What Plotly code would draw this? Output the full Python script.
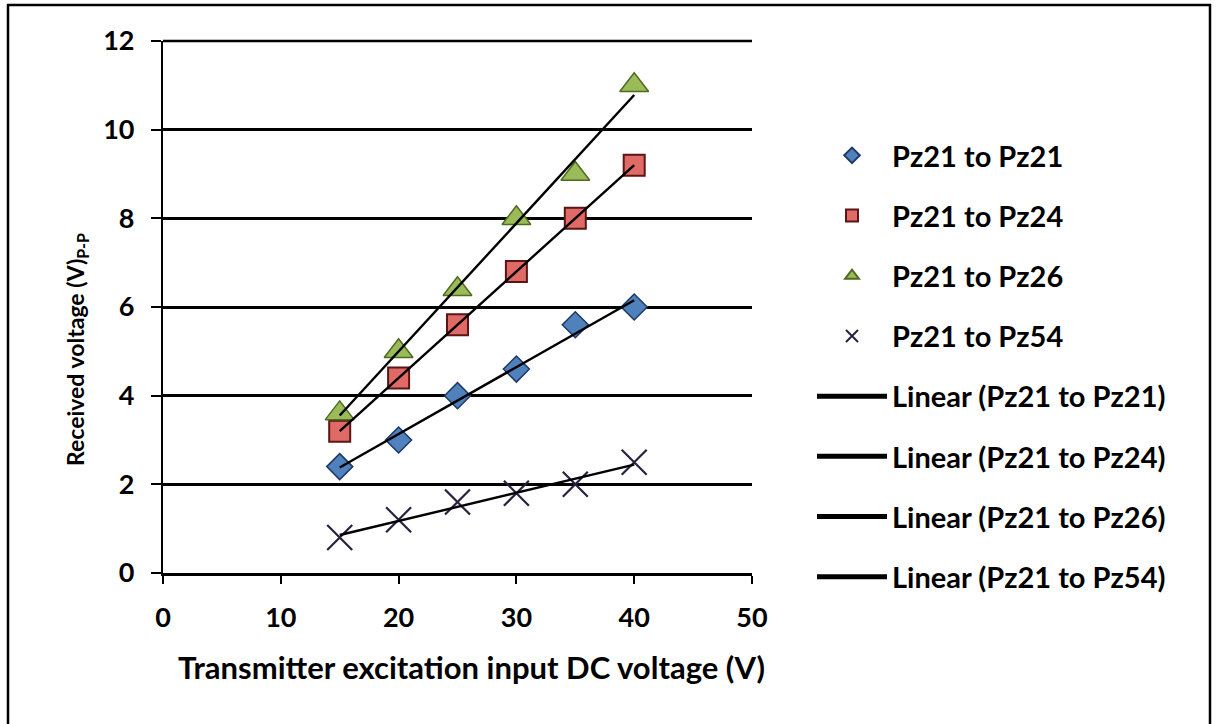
import numpy as np
import plotly.graph_objects as go

x_vals = [15, 20, 25, 30, 35, 40]
pz21 = [2.4, 3.0, 4.0, 4.6, 5.6, 6.0]
pz24 = [3.2, 4.4, 5.6, 6.8, 8.0, 9.2]
pz26 = [3.6, 5.0, 6.4, 8.0, 9.0, 11.0]
pz54 = [0.8, 1.2, 1.6, 1.8, 2.0, 2.5]
series_names = ["Pz21 to Pz21", "Pz21 to Pz24", "Pz21 to Pz26", "Pz21 to Pz54"]
x_ticks = [0, 10, 20, 30, 40, 50]
y_ticks = [0, 2, 4, 6, 8, 10, 12]
x_title = "Transmitter excitation input DC voltage (V)"
y_title = "Received voltage (V)<sub>P-P</sub>"

FONT = "Lato"

W, H = 1217, 724
L, R, T, B = 163, 752, 41, 573

styles = [
    dict(symbol="diamond", size=20, color="#4F81BD", line=dict(color="#1F3864", width=1.5)),
    dict(symbol="square", size=21, color="#E06B66", line=dict(color="#5A1514", width=2)),
    dict(symbol="triangle-up", size=25, color="#9BBB59", line=dict(color="#4F6B22", width=1.5)),
    dict(symbol="x-thin", size=25, color="#3F3151", line=dict(color="#2B2040", width=2.2)),
]

fig = go.Figure()
all_series = [pz21, pz24, pz26, pz54]
for i, (name, ys) in enumerate(zip(series_names, all_series)):
    fig.add_trace(go.Scatter(x=x_vals, y=ys, mode="markers", name=name,
                             marker=styles[i], legendgroup="g%d" % i))
for i, (name, ys) in enumerate(zip(series_names, all_series)):
    k, b = np.polyfit(x_vals, ys, 1)
    xs = [x_vals[0], x_vals[-1]]
    fig.add_trace(go.Scatter(x=xs, y=[k * v + b for v in xs], mode="lines",
                             name="Linear (%s)" % name,
                             line=dict(color="black", width=2.4),
                             legendgroup="l%d" % i))

def px2paperx(p):
    return (p - L) / (R - L)

def px2papery(p):
    return (B - p) / (B - T)

fig.update_layout(
    width=W, height=H,
    margin=dict(l=L, r=W - R, t=T, b=H - B, autoexpand=False),
    paper_bgcolor="white", plot_bgcolor="white",
    font=dict(family=FONT, size=27, color="black", weight="bold"),
    showlegend=True,
    legend=dict(x=px2paperx(812), y=px2papery(130), xanchor="left", yanchor="top",
                xref="paper", yref="paper", itemwidth=70,
                tracegroupgap=19.5, font=dict(family=FONT, size=29, weight="bold"),
                bgcolor="rgba(0,0,0,0)", itemsizing="constant"),
    xaxis=dict(range=[0, 50], tickvals=x_ticks, showgrid=False, zeroline=False,
               showline=True, linecolor="black", linewidth=2.6,
               ticks="outside", ticklen=8, tickwidth=2, tickcolor="black",
               ticklabelstandoff=11, tickfont=dict(size=27)),
    yaxis=dict(range=[0, 12], tickvals=y_ticks, showgrid=True, gridcolor="black", gridwidth=2.6,
               zeroline=False, showline=True, linecolor="black", linewidth=2.2,
               ticks="outside", ticklen=10, tickwidth=2, tickcolor="black",
               ticklabelstandoff=11, tickfont=dict(size=27)),
    annotations=[
        dict(text=x_title, xref="paper", yref="paper", x=px2paperx(471), y=px2papery(667),
             xanchor="center", yanchor="middle", showarrow=False,
             font=dict(family=FONT, size=31, weight="bold", color="black")),
        dict(text=y_title, xref="paper", yref="paper", x=px2paperx(76), y=px2papery(350),
             xanchor="center", yanchor="middle", textangle=-90, showarrow=False,
             font=dict(family=FONT, size=23, weight="bold", color="black")),
    ],
    shapes=[
        dict(type="rect", xref="paper", yref="paper",
             x0=px2paperx(8), x1=px2paperx(1210), y0=px2papery(735), y1=px2papery(5),
             line=dict(color="black", width=2.5), fillcolor="rgba(0,0,0,0)", layer="below"),
        dict(type="line", xref="paper", yref="paper", x0=0, x1=1, y0=1, y1=1,
             line=dict(color="black", width=2.6)),
    ],
)

fig.write_html("out.html")
